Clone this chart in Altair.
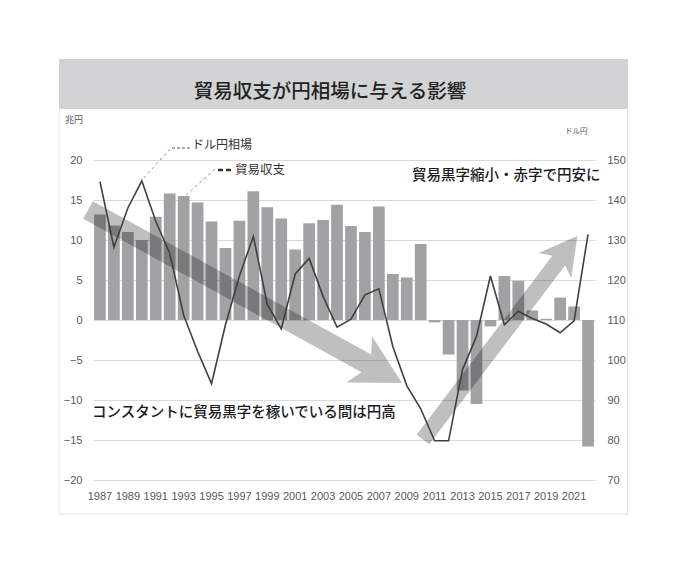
import altair as alt
import pandas as pd

# ---------------- data ----------------
years = list(range(1987, 2023))
trade_balance = [13.2, 11.8, 11.0, 10.0, 12.9, 15.8, 15.5, 14.7, 12.3, 9.0,
                 12.4, 16.1, 14.1, 12.7, 8.8, 12.1, 12.5, 14.4, 11.75, 11.0,
                 14.2, 5.75, 5.3, 9.5, -0.3, -4.3, -8.8, -10.5, -0.8, 5.5,
                 4.9, 1.2, 0.15, 2.8, 1.7, -15.8]
usd_jpy = [144.6, 128.2, 138.0, 144.8, 134.7, 126.7, 111.2, 102.2, 94.1, 108.8,
           121.0, 130.9, 113.9, 107.8, 121.5, 125.4, 115.9, 108.2, 110.2, 116.3,
           117.8, 103.4, 93.6, 87.8, 79.8, 79.8, 97.6, 105.9, 121.0, 108.8,
           112.2, 110.4, 109.0, 106.8, 109.8, 131.4]
year_ticks = list(range(1987, 2022, 2))
left_ticks = [-20, -15, -10, -5, 0, 5, 10, 15, 20]
right_ticks = [70, 80, 90, 100, 110, 120, 130, 140, 150]

title_text = "貿易収支が円相場に与える影響"
note_up = "貿易黒字縮小・赤字で円安に"
note_down = "コンスタントに貿易黒字を稼いでいる間は円高"

# annotation anchors in data space (year, 兆円)
note_x = [2009.38, 1986.43]
note_y = [18.0, -11.62]
arrow_x = [1997.40, 2015.70]
arrow_y = [2.94, -2.22]

df = pd.DataFrame({"year": years, "trade": trade_balance, "usdjpy": usd_jpy})
one = pd.DataFrame({"k": [0]})
notes_df = pd.DataFrame({"x": note_x, "y": note_y, "t": [note_up, note_down]})
ticks_df = pd.DataFrame({"year": year_ticks, "lbl": [str(y) for y in year_ticks]})

# ---------------- styles ----------------
W, H = 502, 320
JP = "Noto Sans CJK JP"
NUM = "Liberation Sans"
LBL = "#595959"

xs = alt.Scale(domain=[1986.5, 2022.5], nice=False, zero=False)
ysl = alt.Scale(domain=[-20, 20], nice=False, zero=False)
ysr = alt.Scale(domain=[70, 150], nice=False, zero=False)

# ---------------- decorations (frame / title band) ----------------
band = alt.Chart(one).mark_rect(color="#d2d3d5").encode(
    x=alt.value(-34), x2=alt.value(535), y=alt.value(-101), y2=alt.value(-51))
frame_r = alt.Chart(one).mark_rule(color="#dedede", strokeWidth=1).encode(
    x=alt.value(534.5), y=alt.value(-51), y2=alt.value(354))
frame_b = alt.Chart(one).mark_rule(color="#e2e2e2", strokeWidth=1).encode(
    x=alt.value(-34), x2=alt.value(535), y=alt.value(354))
frame_l = alt.Chart(one).mark_rule(color="#f0f0f0", strokeWidth=1).encode(
    x=alt.value(-33.5), y=alt.value(-51), y2=alt.value(354))
title = alt.Chart(one).mark_text(
    text=title_text, font=JP, fontSize=19.5, fontWeight=500, color="#222222",
    align="center", baseline="middle").encode(x=alt.value(237), y=alt.value(-68))
unit_l = alt.Chart(one).mark_text(
    text="兆円", font=JP, fontSize=9, color=LBL, align="left", baseline="middle"
).encode(x=alt.value(-28), y=alt.value(-40))
unit_r = alt.Chart(one).mark_text(
    text="ドル円", font=JP, fontSize=7.5, color=LBL, align="left", baseline="middle"
).encode(x=alt.value(472), y=alt.value(-28))

# ---------------- data layers ----------------
bars = alt.Chart(df).transform_calculate(
    x0="datum.year - 0.42", x1="datum.year + 0.42"
).mark_bar(color="#a2a2a5").encode(
    x=alt.X("x0:Q", scale=xs, axis=None),
    x2="x1:Q",
    y=alt.Y("trade:Q", scale=ysl, axis=alt.Axis(
        values=left_ticks, grid=True, gridColor="#d9d9d9", gridWidth=1,
        domain=False, ticks=False, labelPadding=11, labelFontSize=11,
        labelColor=LBL, labelFont=NUM, title=None)),
    y2=alt.datum(0),
)

line = alt.Chart(df).mark_line(color="#404040", strokeWidth=1.6).encode(
    x=alt.X("year:Q", scale=xs, axis=None),
    y=alt.Y("usdjpy:Q", scale=ysr, axis=alt.Axis(
        orient="right", values=right_ticks, grid=False, domain=False, ticks=False,
        labelPadding=12, labelFontSize=11, labelColor=LBL, labelFont=NUM,
        title=None)),
)

# year labels along the bottom, positioned through the x scale
xlabels = alt.Chart(ticks_df).mark_text(
    font=NUM, fontSize=11, color=LBL, align="center", baseline="middle").encode(
    x=alt.X("year:Q", scale=xs, axis=None),
    y=alt.value(337),
    text="lbl:N")

# ---------------- big arrows (anchored in data space) ----------------
arrow1_path = ("M -1 -0.056 L 0.7733 -0.056 L 0.7266 -0.1478 L 1 0 "
               "L 0.7266 0.1478 L 0.7733 0.056 L -1 0.056 Z")
arrow2_path = ("M -1 -0.0626 L 0.758 -0.0626 L 0.7103 -0.1605 L 1 0 "
               "L 0.7103 0.1605 L 0.758 0.0626 L -1 0.0626 Z")
arrows_df = pd.DataFrame({"x": arrow_x, "y": arrow_y})
arrow1 = alt.Chart(arrows_df).transform_filter("datum.x < 2000").mark_point(
    shape=arrow1_path, size=128522, angle=28.85, filled=True,
    color="#000000", opacity=0.25, strokeWidth=0).encode(
    x=alt.X("x:Q", scale=xs, axis=None),
    y=alt.Y("y:Q", scale=ysl, axis=None))
arrow2 = alt.Chart(arrows_df).transform_filter("datum.x > 2000").mark_point(
    shape=arrow2_path, size=65229, angle=307.2, filled=True,
    color="#000000", opacity=0.25, strokeWidth=0).encode(
    x=alt.X("x:Q", scale=xs, axis=None),
    y=alt.Y("y:Q", scale=ysl, axis=None))

# ---------------- in-plot notes ----------------
notes = alt.Chart(notes_df).mark_text(
    font=JP, fontSize=14.5, fontWeight=500, color="#1a1a22",
    align="left", baseline="middle").encode(
    x=alt.X("x:Q", scale=xs, axis=None),
    y=alt.Y("y:Q", scale=ysl, axis=None),
    text="t:N")

# ---------------- legend call-outs ----------------
leg1_txt = alt.Chart(one).mark_text(
    text="ドル円相場", font=JP, fontSize=12, color="#333333",
    align="left", baseline="middle").encode(x=alt.value(99), y=alt.value(-15))
leg1_h = alt.Chart(one).mark_rule(color="#555555", strokeWidth=1, strokeDash=[3, 2]).encode(
    x=alt.value(79), x2=alt.value(97), y=alt.value(-12))
leg1_d = alt.Chart(one).mark_rule(color="#777777", strokeWidth=0.8, strokeDash=[3, 3]).encode(
    x=alt.value(77), y=alt.value(-11), x2=alt.value(49), y2=alt.value(20))
leg2_txt = alt.Chart(one).mark_text(
    text="貿易収支", font=JP, fontSize=12.5, color="#333333",
    align="left", baseline="middle").encode(x=alt.value(142), y=alt.value(10))
leg2_h = alt.Chart(one).mark_rule(color="#333333", strokeWidth=2.5, strokeDash=[5, 3]).encode(
    x=alt.value(125), x2=alt.value(138), y=alt.value(10))
leg2_d = alt.Chart(one).mark_rule(color="#777777", strokeWidth=0.8, strokeDash=[3, 3]).encode(
    x=alt.value(122), y=alt.value(9), x2=alt.value(90), y2=alt.value(38))

chart = alt.layer(
    band, frame_r, frame_b, frame_l, title, unit_l, unit_r,
    bars, arrow1, arrow2, line, notes, xlabels,
    leg1_h, leg1_d, leg1_txt, leg2_h, leg2_d, leg2_txt,
).resolve_scale(y="independent").properties(
    width=W, height=H,
    autosize=alt.AutoSizeParams(type="none"),
    padding={"left": 85, "top": 152, "right": 80, "bottom": 70},
).configure_view(stroke=None)

chart.save("out.html", embed_options={"renderer": "svg", "actions": False})
